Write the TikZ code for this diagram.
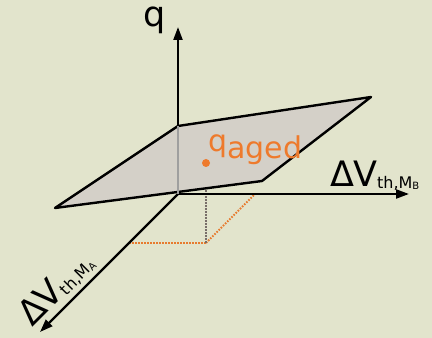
\documentclass[tikz,border=0pt]{standalone}
\usepackage{fontspec}
\setmainfont{DejaVu Sans}
\usetikzlibrary{arrows.meta}
\definecolor{bg}{RGB}{226,228,204}
\definecolor{planefill}{RGB}{212,208,200}
\definecolor{agedorange}{RGB}{238,122,44}
\definecolor{dotgray}{RGB}{120,110,105}
\tikzset{
  axis/.style={line width=2.2pt, -{Triangle[length=13pt,width=9pt]}},
  planeedge/.style={line width=2.4pt, line join=round, fill=planefill},
  projline/.style={line width=2pt, dash pattern=on 1.6pt off 1.4pt, agedorange!85!brown},
  vproj/.style={line width=2pt, dash pattern=on 1.6pt off 1.4pt, dotgray},
  bigtxt/.style={font=\fontsize{35}{35}\selectfont, inner sep=0pt},
  subtxt/.style={},
}
\newcommand{\subA}{\fontsize{16}{16}\selectfont}
\newcommand{\subB}{\fontsize{10}{10}\selectfont}
\begin{document}
\begin{tikzpicture}[x=1pt,y=1pt]
\fill[bg] (0,0) rectangle (432,338);
\useasboundingbox (0,0) rectangle (432,338);
% coordinates
\coordinate (O) at (178,144);
\coordinate (Qtip) at (178,311);
\coordinate (Btip) at (409,144);
\coordinate (Atip) at (40,6);
\coordinate (P1) at (178,212);
\coordinate (P2) at (371,241);
\coordinate (P3) at (262,157);
\coordinate (P4) at (55,130);
\coordinate (D) at (206,175);
\coordinate (F) at (206,95);
\coordinate (FA) at (129,95);
\coordinate (FB) at (255,144);
% projections
\draw[projline] (FA) -- (F);
\draw[projline] (F) -- (FB);
\draw[vproj] (D) -- (F);
% axes
\draw[axis] (O) -- (Btip);
\draw[axis] (O) -- (Atip);
% plane
\draw[planeedge] (P1) -- (P2) -- (P3) -- (P4) -- cycle;
\draw[line width=1.4pt, gray!75] (O) -- (P1);
\draw[axis] (P1) -- (Qtip);
% point
\fill[agedorange] (D) circle (4pt);
\node[inner sep=0pt, anchor=base west, text=agedorange] (qaged) at (208,186)
  {\fontsize{30}{30}\selectfont q\raisebox{-7pt}{aged}};
% labels
\node[bigtxt, anchor=base west] (qlab) at (143,311) {q};
\node[bigtxt, anchor=base west] (mblab) at (330,151)
  {Δ\kern-1ptV\raisebox{-2pt}{\subA th,M\raisebox{-1pt}{\subB B}}};
\node[bigtxt, anchor=base west, rotate=45] (malab) at (32,10)
  {Δ\kern-1ptV\raisebox{-2pt}{\subA th,M\raisebox{-1pt}{\subB A}}};
\end{tikzpicture}
\end{document}
